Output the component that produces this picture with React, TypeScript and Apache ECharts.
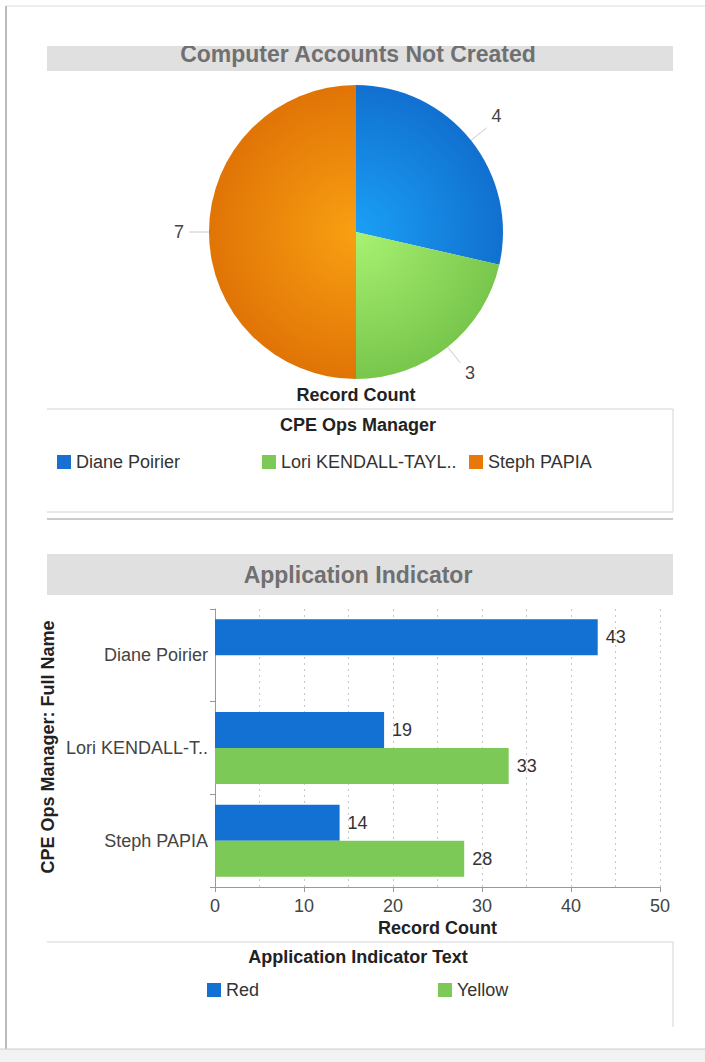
import React, { useEffect, useRef } from "react";
import * as echarts from "echarts";

const pieNames = ["Diane Poirier", "Lori KENDALL-TAYL..", "Steph PAPIA"];
const pieValues = [4, 3, 7];
const pieColors = [
  ["#1aa0f5", "#1170d0"],
  ["#a9f272", "#78c64c"],
  ["#f9a012", "#e07406"],
];
const legendColors = ["#1a70d0", "#7cc957", "#e8780a"];
const pieLabelShift = [-12, 10, 0];

const barCategories = ["Diane Poirier", "Lori KENDALL-T..", "Steph PAPIA"];
const seriesNames = ["Red", "Yellow"];
const redValues = [43, 19, 14];
const yellowValues: (number | null)[] = [null, 33, 28];
const barColors = ["#1271d2", "#7cc957"];

const FONT = "'Liberation Sans', Arial, sans-serif";

export default function App() {
  const ref = useRef<HTMLDivElement>(null);
  useEffect(() => {
    if (!ref.current) return;
    const chart = echarts.init(ref.current, null, { renderer: "svg" });
    const cx = 356, cy = 232, r = 147;

    const legendBase = {
      orient: "horizontal",
      icon: "rect",
      itemWidth: 14,
      itemHeight: 14,
      itemGap: 0,
      padding: 0,
      selectedMode: false,
      textStyle: { fontSize: 18, color: "#333", fontFamily: FONT },
    };

    const option: any = {
      animation: false,
      textStyle: { fontFamily: FONT },
      legend: [
        { ...legendBase, left: 57, top: 453, data: [{ name: pieNames[0], itemStyle: { color: legendColors[0] } }] },
        { ...legendBase, left: 262, top: 453, data: [{ name: pieNames[1], itemStyle: { color: legendColors[1] } }] },
        { ...legendBase, left: 469, top: 453, data: [{ name: pieNames[2], itemStyle: { color: legendColors[2] } }] },
        { ...legendBase, left: 207, top: 981, data: [seriesNames[0]] },
        { ...legendBase, left: 438, top: 981, data: [seriesNames[1]] },
      ],
      grid: { left: 215, right: 45, top: 609, height: 278, containLabel: false },
      xAxis: {
        type: "value",
        min: 0,
        max: 50,
        interval: 10,
        name: "Record Count",
        nameLocation: "middle",
        nameGap: 32,
        nameTextStyle: { fontSize: 18, fontWeight: "bold", color: "#222", fontFamily: FONT },
        axisLine: { show: true, lineStyle: { color: "#999" } },
        axisTick: { show: true, length: 5, lineStyle: { color: "#999" } },
        axisLabel: { fontSize: 18, color: "#444", margin: 10, fontFamily: FONT },
        splitLine: { show: true, lineStyle: { type: [2, 4], color: "#c8c8c8" } },
        minorTick: { show: false, splitNumber: 2 },
        minorSplitLine: { show: true, lineStyle: { type: [2, 4], color: "#c8c8c8" } },
      },
      yAxis: {
        type: "category",
        data: barCategories,
        inverse: true,
        axisLine: { show: true, lineStyle: { color: "#999" } },
        axisTick: { show: true, length: 5, lineStyle: { color: "#999" } },
        axisLabel: { fontSize: 18, color: "#444", margin: 7, fontFamily: FONT },
        splitLine: { show: false },
      },
      series: [
        {
          type: "pie",
          center: [cx, cy],
          radius: r,
          startAngle: 90,
          clockwise: true,
          legendHoverLink: false,
          data: pieNames.map((n, i) => ({
            name: n,
            value: pieValues[i],
            itemStyle: {
              color: {
                type: "radial",
                x: cx,
                y: cy,
                r: r,
                global: true,
                colorStops: [
                  { offset: 0, color: pieColors[i][0] },
                  { offset: 1, color: pieColors[i][1] },
                ],
              },
            },
          })),
          label: { show: true, formatter: "{c}", fontSize: 18, color: "#444", fontFamily: FONT },
          labelLine: { show: true, length: 20, length2: 0, lineStyle: { color: "#c8c8c8", width: 1 } },
          labelLayout: (params: any) => ({ dy: pieLabelShift[params.dataIndex] || 0 }),
          itemStyle: { borderWidth: 0 },
        },
        {
          type: "bar",
          name: seriesNames[0],
          data: redValues,
          barWidth: 36,
          barGap: "0%",
          itemStyle: { color: barColors[0] },
          label: { show: true, position: "right", distance: 8, fontSize: 18, color: "#333", fontFamily: FONT },
        },
        {
          type: "bar",
          name: seriesNames[1],
          data: yellowValues,
          barWidth: 36,
          barGap: "0%",
          itemStyle: { color: barColors[1] },
          label: { show: true, position: "right", distance: 8, fontSize: 18, color: "#333", fontFamily: FONT },
        },
      ],
      graphic: [
        { type: "line", shape: { x1: 6, y1: 6, x2: 705, y2: 6 }, style: { stroke: "#ddd", lineWidth: 1 } },
        { type: "line", shape: { x1: 6, y1: 6, x2: 6, y2: 1049 }, style: { stroke: "#bbb", lineWidth: 2 } },
        { type: "rect", shape: { x: 47, y: 46, width: 626, height: 25 }, style: { fill: "#e0e0e0" }, z: 1 },
        {
          type: "text", x: 358, y: 54, z: 2,
          style: { text: "Computer Accounts Not Created", align: "center", verticalAlign: "middle", font: `bold 23px ${FONT}`, fill: "#707070" },
        },
        { type: "rect", shape: { x: 40, y: 10, width: 640, height: 36 }, style: { fill: "#fff" }, z: 3 },
        {
          type: "text", x: 356, y: 395,
          style: { text: "Record Count", align: "center", verticalAlign: "middle", font: `bold 18px ${FONT}`, fill: "#222" },
        },
        { type: "line", shape: { x1: 47, y1: 409, x2: 673, y2: 409 }, style: { stroke: "#d4d4d4", lineWidth: 1 } },
        { type: "line", shape: { x1: 673, y1: 409, x2: 673, y2: 512 }, style: { stroke: "#d4d4d4", lineWidth: 1 } },
        { type: "line", shape: { x1: 47, y1: 512, x2: 673, y2: 512 }, style: { stroke: "#d4d4d4", lineWidth: 1 } },
        { type: "line", shape: { x1: 47, y1: 519, x2: 673, y2: 519 }, style: { stroke: "#ccc", lineWidth: 2 } },
        {
          type: "text", x: 358, y: 425,
          style: { text: "CPE Ops Manager", align: "center", verticalAlign: "middle", font: `bold 18px ${FONT}`, fill: "#222" },
        },
        { type: "rect", shape: { x: 47, y: 554, width: 626, height: 41 }, style: { fill: "#e0e0e0" } },
        {
          type: "text", x: 358, y: 575,
          style: { text: "Application Indicator", align: "center", verticalAlign: "middle", font: `bold 23px ${FONT}`, fill: "#707070" },
        },
        {
          type: "text", x: 48, y: 747, rotation: Math.PI / 2,
          style: { text: "CPE Ops Manager: Full Name", align: "center", verticalAlign: "middle", font: `bold 18px ${FONT}`, fill: "#222" },
        },
        { type: "line", shape: { x1: 47, y1: 942, x2: 673, y2: 942 }, style: { stroke: "#d4d4d4", lineWidth: 1 } },
        { type: "line", shape: { x1: 673, y1: 942, x2: 673, y2: 1027 }, style: { stroke: "#d4d4d4", lineWidth: 1 } },
        {
          type: "text", x: 358, y: 957,
          style: { text: "Application Indicator Text", align: "center", verticalAlign: "middle", font: `bold 18px ${FONT}`, fill: "#222" },
        },
        { type: "rect", shape: { x: 0, y: 1049, width: 705, height: 13 }, style: { fill: "#f2f2f2" } },
        { type: "line", shape: { x1: 0, y1: 1049, x2: 705, y2: 1049 }, style: { stroke: "#ccc", lineWidth: 1 } },
      ],
    };
    chart.setOption(option);
    return () => chart.dispose();
  }, []);
  return <div ref={ref} style={{ position: "absolute", left: 0, top: 0, width: 705, height: 1062 }} />;
}
